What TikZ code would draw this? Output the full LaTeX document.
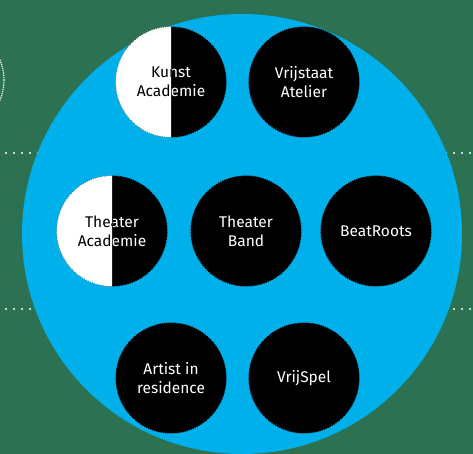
\documentclass[tikz,border=0pt]{standalone}
\usepackage{fontspec}
\setmainfont{Fira Sans}
\usetikzlibrary{scopes}
\definecolor{bggreen}{HTML}{2C7151}
\definecolor{bigblue}{HTML}{00B0EA}

\begin{document}
\begin{tikzpicture}[x=1pt,y=-1pt,
        disc/.style={circle, fill=black, draw=black, densely dotted, line width=1.2pt,
            minimum size=110pt, inner sep=0pt, text=white, align=center,
            font=\fontsize{15.5}{19}\selectfont},
        dotline/.style={white, line width=2.2pt, line cap=round, dash pattern=on 0pt off 8pt}]

        \fill[bggreen] (0,0) rectangle (473,454);
        \useasboundingbox (0,0) rectangle (473,454);

        {[dotline]
            \draw (6,153) -- (470,153);
            \draw (6,309) -- (470,309);
        }
        \draw[white, densely dotted, line width=1.2pt] (-48,80) circle (52);

        \fill[bigblue] (242,234) circle (220);

        \node[disc] (kunst) at (171,82) {Kunst\\Academie};
        \node[disc] (vrijstaat) at (304,82) {Vrijstaat\\Atelier};
        \node[disc] (theaterac) at (112,231) {Theater\\Academie};
        \node[disc] (band) at (246,231) {Theater\\Band};
        \node[disc] (beat) at (376,231) {BeatRoots};
        \node[disc] (artist) at (171,378) {Artist in\\residence};
        \node[disc] (vrijspel) at (304,378) {VrijSpel};

        % white left halves
        \foreach \n/\t in {kunst/{Kunst\\Academie}, theaterac/{Theater\\Academie}} {
            \begin{scope}
                \clip (\n.north) rectangle ++(-60,120);
                \fill[white] (\n) circle (55);
                \node[disc, fill=none, draw=white, text=black] at (\n) {\t};
            \end{scope}
        }
    \end{tikzpicture}
\end{document}
